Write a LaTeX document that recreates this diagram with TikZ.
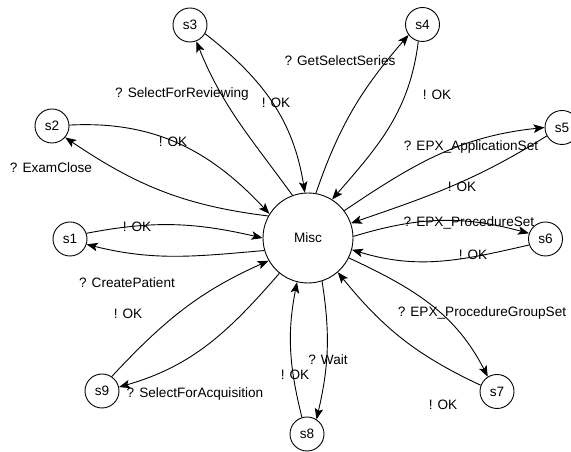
\documentclass[tikz,border=0pt]{standalone}
\usepackage{fontspec}
\setmainfont{Liberation Sans}
\usetikzlibrary{arrows.meta}

\begin{document}
\begin{tikzpicture}[x=1pt,y=1pt,
  state/.style={draw,circle,line width=0.9pt,inner sep=0pt,minimum size=34pt,font=\fontsize{13.6}{15}\selectfont},
  hub/.style={draw,circle,line width=0.9pt,inner sep=0pt,minimum size=90pt,font=\fontsize{13.6}{15}\selectfont},
  lbl/.style={inner sep=0pt,font=\fontsize{13.6}{15}\selectfont},
  msg/.style={line width=0.9pt,-{Stealth[length=11pt,width=8.5pt,inset=2.5pt]}}
]
\useasboundingbox (0,0) rectangle (571,452);

% states
\node[hub]   (misc) at (308,214)   {Misc};
\node[state] (s1)   at (70,213)    {s1};
\node[state] (s2)   at (52,326)    {s2};
\node[state] (s3)   at (190,427)   {s3};
\node[state] (s4)   at (422.5,427.5) {s4};
\node[state] (s5)   at (562,324.5) {s5};
\node[state] (s6)   at (545.5,213) {s6};
\node[state] (s7)   at (497,60.5)  {s7};
\node[state] (s8)   at (307,18)    {s8};
\node[state] (s9)   at (102,61)    {s9};

% requests from Misc and replies back
\draw[msg] (misc.151) to[out=173,in=-34] (s2.-41);
\draw[msg] (s2.3)     to[out=3,in=133]   (misc.148);

\draw[msg] (misc.196) to[out=185,in=-14] (s1.-18);
\draw[msg] (s1.19)    to[out=11,in=167]  (misc.180);

\draw[msg] (misc.231) to[out=229,in=16]  (s9.13);
\draw[msg] (s9.56)    to[out=47,in=204]  (misc.210);

\draw[msg] (misc.-72) to[out=-81,in=77]  (s8.57);
\draw[msg] (s8.107)   to[out=104,in=-101] (misc.-104);

\draw[msg] (misc.-26) to[out=-25,in=117] (s7.122);
\draw[msg] (s7.159)   to[out=155,in=-51] (misc.-49);

\draw[msg] (misc.2)   to[out=17,in=165]  (s6.161);
\draw[msg] (s6.200)   to[out=193,in=-17] (misc.-15);

\draw[msg] (misc.37)  to[out=34,in=186]  (s5.180);
\draw[msg] (s5.209)   to[out=212,in=19]  (misc.19);

\draw[msg] (misc.80)  to[out=71,in=229]  (s4.217);
\draw[msg] (s4.256)   to[out=263,in=49]  (misc.58);

\draw[msg] (misc.110) to[out=126,in=-68] (s3.-69);
\draw[msg] (s3.-30)   to[out=-38,in=99]  (misc.94);

% message labels
\node[lbl] (l3a) at (182,358) {? SelectForReviewing};
\node[lbl] (l3b) at (276,349) {! OK};
\node[lbl] (l2b) at (173,310) {! OK};
\node[lbl] (l2a) at (51,284)  {? ExamClose};
\node[lbl] (l4a) at (340,391) {? GetSelectSeries};
\node[lbl] (l4b) at (437,357) {! OK};
\node[lbl] (l5a) at (471,305) {? EPX\_ApplicationSet};
\node[lbl] (l5b) at (462,265) {! OK};
\node[lbl] (l6a) at (469,229) {? EPX\_ProcedureSet};
\node[lbl] (l6b) at (473,197) {! OK};
\node[lbl] (l7a) at (482,139) {? EPX\_ProcedureGroupSet};
\node[lbl] (l7b) at (443,47)  {! OK};
\node[lbl] (l8a) at (328,92)  {? Wait};
\node[lbl] (l8b) at (295,77)  {! OK};
\node[lbl] (l9a) at (195,58)  {? SelectForAcquisition};
\node[lbl] (l9b) at (128,138) {! OK};
\node[lbl] (l1a) at (127,169) {? CreatePatient};
\node[lbl] (l1b) at (137,225) {! OK};
\end{tikzpicture}
\end{document}
